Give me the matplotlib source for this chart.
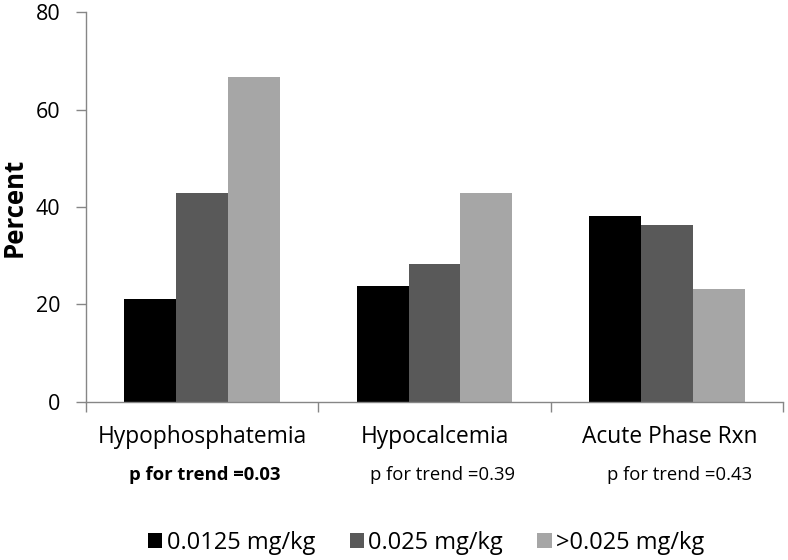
import matplotlib
matplotlib.use("Agg")
import matplotlib.pyplot as plt
import matplotlib.transforms as mtransforms
from matplotlib.patches import Patch
import numpy as np

categories = ["Hypophosphatemia", "Hypocalcemia", "Acute Phase Rxn"]
series_names = ["0.0125 mg/kg", "0.025 mg/kg", ">0.025 mg/kg"]
low_dose = [21.0, 23.8, 38.1]
mid_dose = [42.9, 28.2, 36.2]
high_dose = [66.7, 42.9, 23.1]
p_labels = ["p for trend =0.03", "p for trend =0.39", "p for trend =0.43"]
p_bold = [True, False, False]
y_ticks = [0, 20, 40, 60, 80]

colors = ["#000000", "#595959", "#a6a6a6"]
axis_gray = "#868686"

plt.rcParams["font.family"] = ["Open Sans", "DejaVu Sans"]

fig = plt.figure(figsize=(7.88, 5.6), dpi=100)
ax = fig.add_axes([0.109, 0.2827, 0.8847, 0.6953])

x = np.arange(len(categories))
w = 0.2228
for i, vals in enumerate([low_dose, mid_dose, high_dose]):
    ax.bar(x + (i - 1) * w, vals, width=w, color=colors[i], edgecolor="none", zorder=2)

ax.set_xlim(-0.5, len(categories) - 0.5)
ax.set_ylim(0, 80)
ax.set_yticks(y_ticks)
ax.tick_params(axis="y", direction="out", length=7, width=1, color=axis_gray,
               labelsize=15.5, pad=11.5)
ax.set_xticks(np.arange(-0.5, len(categories), 1.0))
ax.set_xticklabels([""] * (len(categories) + 1))
ax.tick_params(axis="x", which="major", direction="out", length=7, width=1, color=axis_gray)

for s in ["top", "right"]:
    ax.spines[s].set_visible(False)
for s in ["left", "bottom"]:
    ax.spines[s].set_color(axis_gray)
    ax.spines[s].set_linewidth(1)

ax.set_ylabel("Percent", fontsize=18.5, fontweight="bold")
ax.yaxis.set_label_coords(28 / 788, 0.5,
                          transform=mtransforms.blended_transform_factory(fig.transFigure, ax.transAxes))

trans = mtransforms.blended_transform_factory(ax.transData, fig.transFigure)
px = 1.0 / 232.3  # one pixel in category units
cat_offsets = [0.0, 0.0, 3 * px]
for xi, lab, off in zip(x, categories, cat_offsets):
    ax.text(xi + off, 1 - 437 / 560, lab, transform=trans, ha="center", va="center",
            fontsize=16.4)
p_offsets = [3 * px, 8 * px, 13 * px]
for xi, lab, b, off in zip(x, p_labels, p_bold, p_offsets):
    ax.text(xi + off, 1 - 475 / 560, lab, transform=trans, ha="center", va="center",
            fontsize=13.3, fontweight="bold" if b else "normal")

handles = [Patch(facecolor=c, edgecolor="none") for c in colors]
fig.legend(handles, series_names, loc="center", bbox_to_anchor=(0.541, 1 - 543 / 560),
           ncol=3, frameon=False, fontsize=17, handlelength=0.6, handleheight=0.6,
           handletextpad=0.2, columnspacing=1.45, borderpad=0)

fig.savefig("out.png", dpi=100)
